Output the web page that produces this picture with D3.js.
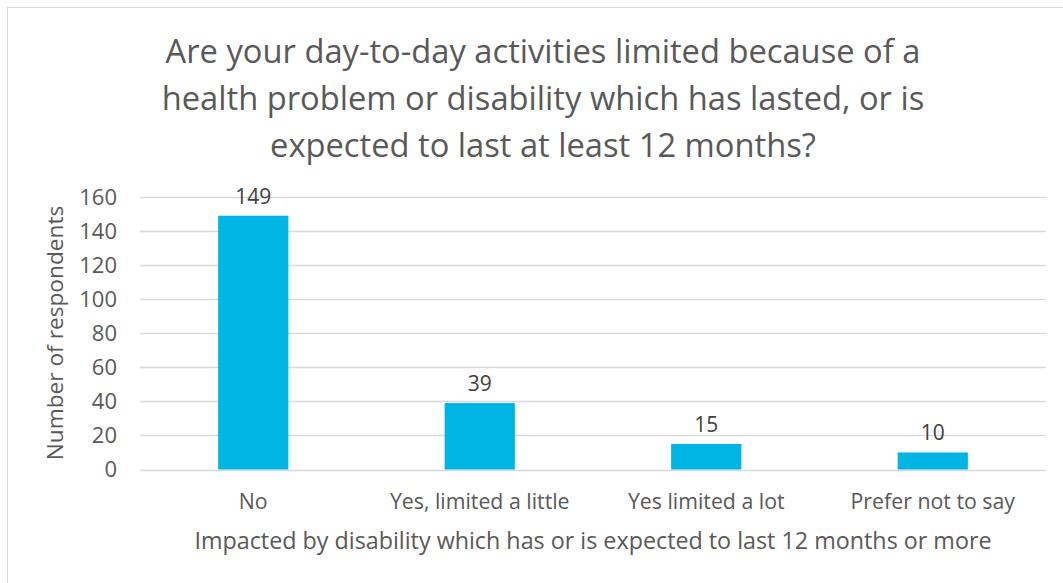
<!DOCTYPE html>
<html>
<head>
<meta charset="utf-8">
<script src="https://cdn.jsdelivr.net/npm/d3@7"></script>
<style>
  html, body { margin: 0; padding: 0; background: #fff; }
  svg { display: block; font-family: "Open Sans", sans-serif; }
</style>
</head>
<body>
<svg id="chart" width="1063" height="583"></svg>
<script>
// Survey responses: limitation of day-to-day activities
const categories = ["No", "Yes, limited a little", "Yes limited a lot", "Prefer not to say"];
const counts = [149, 39, 15, 10];
const yTicks = [0, 20, 40, 60, 80, 100, 120, 140, 160];
const titleLines = [
  "Are your day-to-day activities limited because of a",
  "health problem or disability which has lasted, or is",
  "expected to last at least 12 months?"
];
const xAxisTitle = "Impacted by disability which has or is expected to last 12 months or more";
const yAxisTitle = "Number of respondents";

const W = 1063, H = 583;
const plot = { left: 140, right: 1046, top: 197, bottom: 469.5 };
const textColor = "#595959";
const barColor = "#00B4E3";

const svg = d3.select("#chart");

// Chart frame
svg.append("rect")
  .attr("x", 7.5).attr("y", 7.5)
  .attr("width", W + 10).attr("height", H + 10)
  .attr("fill", "#fff").attr("stroke", "#d9d9d9").attr("stroke-width", 1);

const x = d3.scaleBand().domain(categories).range([plot.left, plot.right]).paddingInner(0.69).paddingOuter(0.345);
const y = d3.scaleLinear().domain([0, 160]).range([plot.bottom, plot.top]);

// Horizontal gridlines
svg.append("g").selectAll("line").data(yTicks).join("line")
  .attr("x1", plot.left).attr("x2", plot.right)
  .attr("y1", d => Math.round(y(d)) + 0.5).attr("y2", d => Math.round(y(d)) + 0.5)
  .attr("stroke", "#d9d9d9").attr("stroke-width", 1.5);

// Y axis tick labels
const yAxis = d3.axisLeft(y).tickValues(yTicks).tickSize(0).tickPadding(0);
const gy = svg.append("g").attr("transform", `translate(${plot.left - 23},0)`).call(yAxis);
gy.select(".domain").remove();
gy.selectAll("text").attr("fill", textColor).style("font-size", "22px").style("font-family", "'Open Sans', sans-serif");

// Bars
svg.append("g").selectAll("rect").data(categories).join("rect")
  .attr("x", d => x(d))
  .attr("width", x.bandwidth())
  .attr("y", (d, i) => y(counts[i]))
  .attr("height", (d, i) => y(0) - y(counts[i]))
  .attr("fill", barColor);

// Value labels
svg.append("g").selectAll("text").data(categories).join("text")
  .attr("x", d => x(d) + x.bandwidth() / 2)
  .attr("y", (d, i) => y(counts[i]) - 12)
  .attr("text-anchor", "middle")
  .attr("fill", "#404040").style("font-size", "21px")
  .text((d, i) => counts[i]);

// X axis category labels
const xAxis = d3.axisBottom(x).tickSize(0).tickPadding(0);
const gx = svg.append("g").attr("transform", `translate(0,${plot.bottom + 24})`).call(xAxis);
gx.select(".domain").remove();
gx.selectAll("text").attr("fill", textColor).style("font-size", "21.3px").style("font-family", "'Open Sans', sans-serif");

// Axis titles
svg.append("text")
  .attr("x", 593).attr("y", 549)
  .attr("text-anchor", "middle").attr("fill", textColor)
  .style("font-size", "23.3px").text(xAxisTitle);

svg.append("text")
  .attr("transform", `translate(63,333) rotate(-90)`)
  .attr("text-anchor", "middle").attr("fill", textColor)
  .style("font-size", "22.7px").text(yAxisTitle);

// Title
svg.append("g").selectAll("text").data(titleLines).join("text")
  .attr("x", 543).attr("y", (d, i) => 63 + i * 47)
  .attr("text-anchor", "middle").attr("fill", textColor)
  .style("font-size", "32.7px").text(d => d);
</script>
</body>
</html>
